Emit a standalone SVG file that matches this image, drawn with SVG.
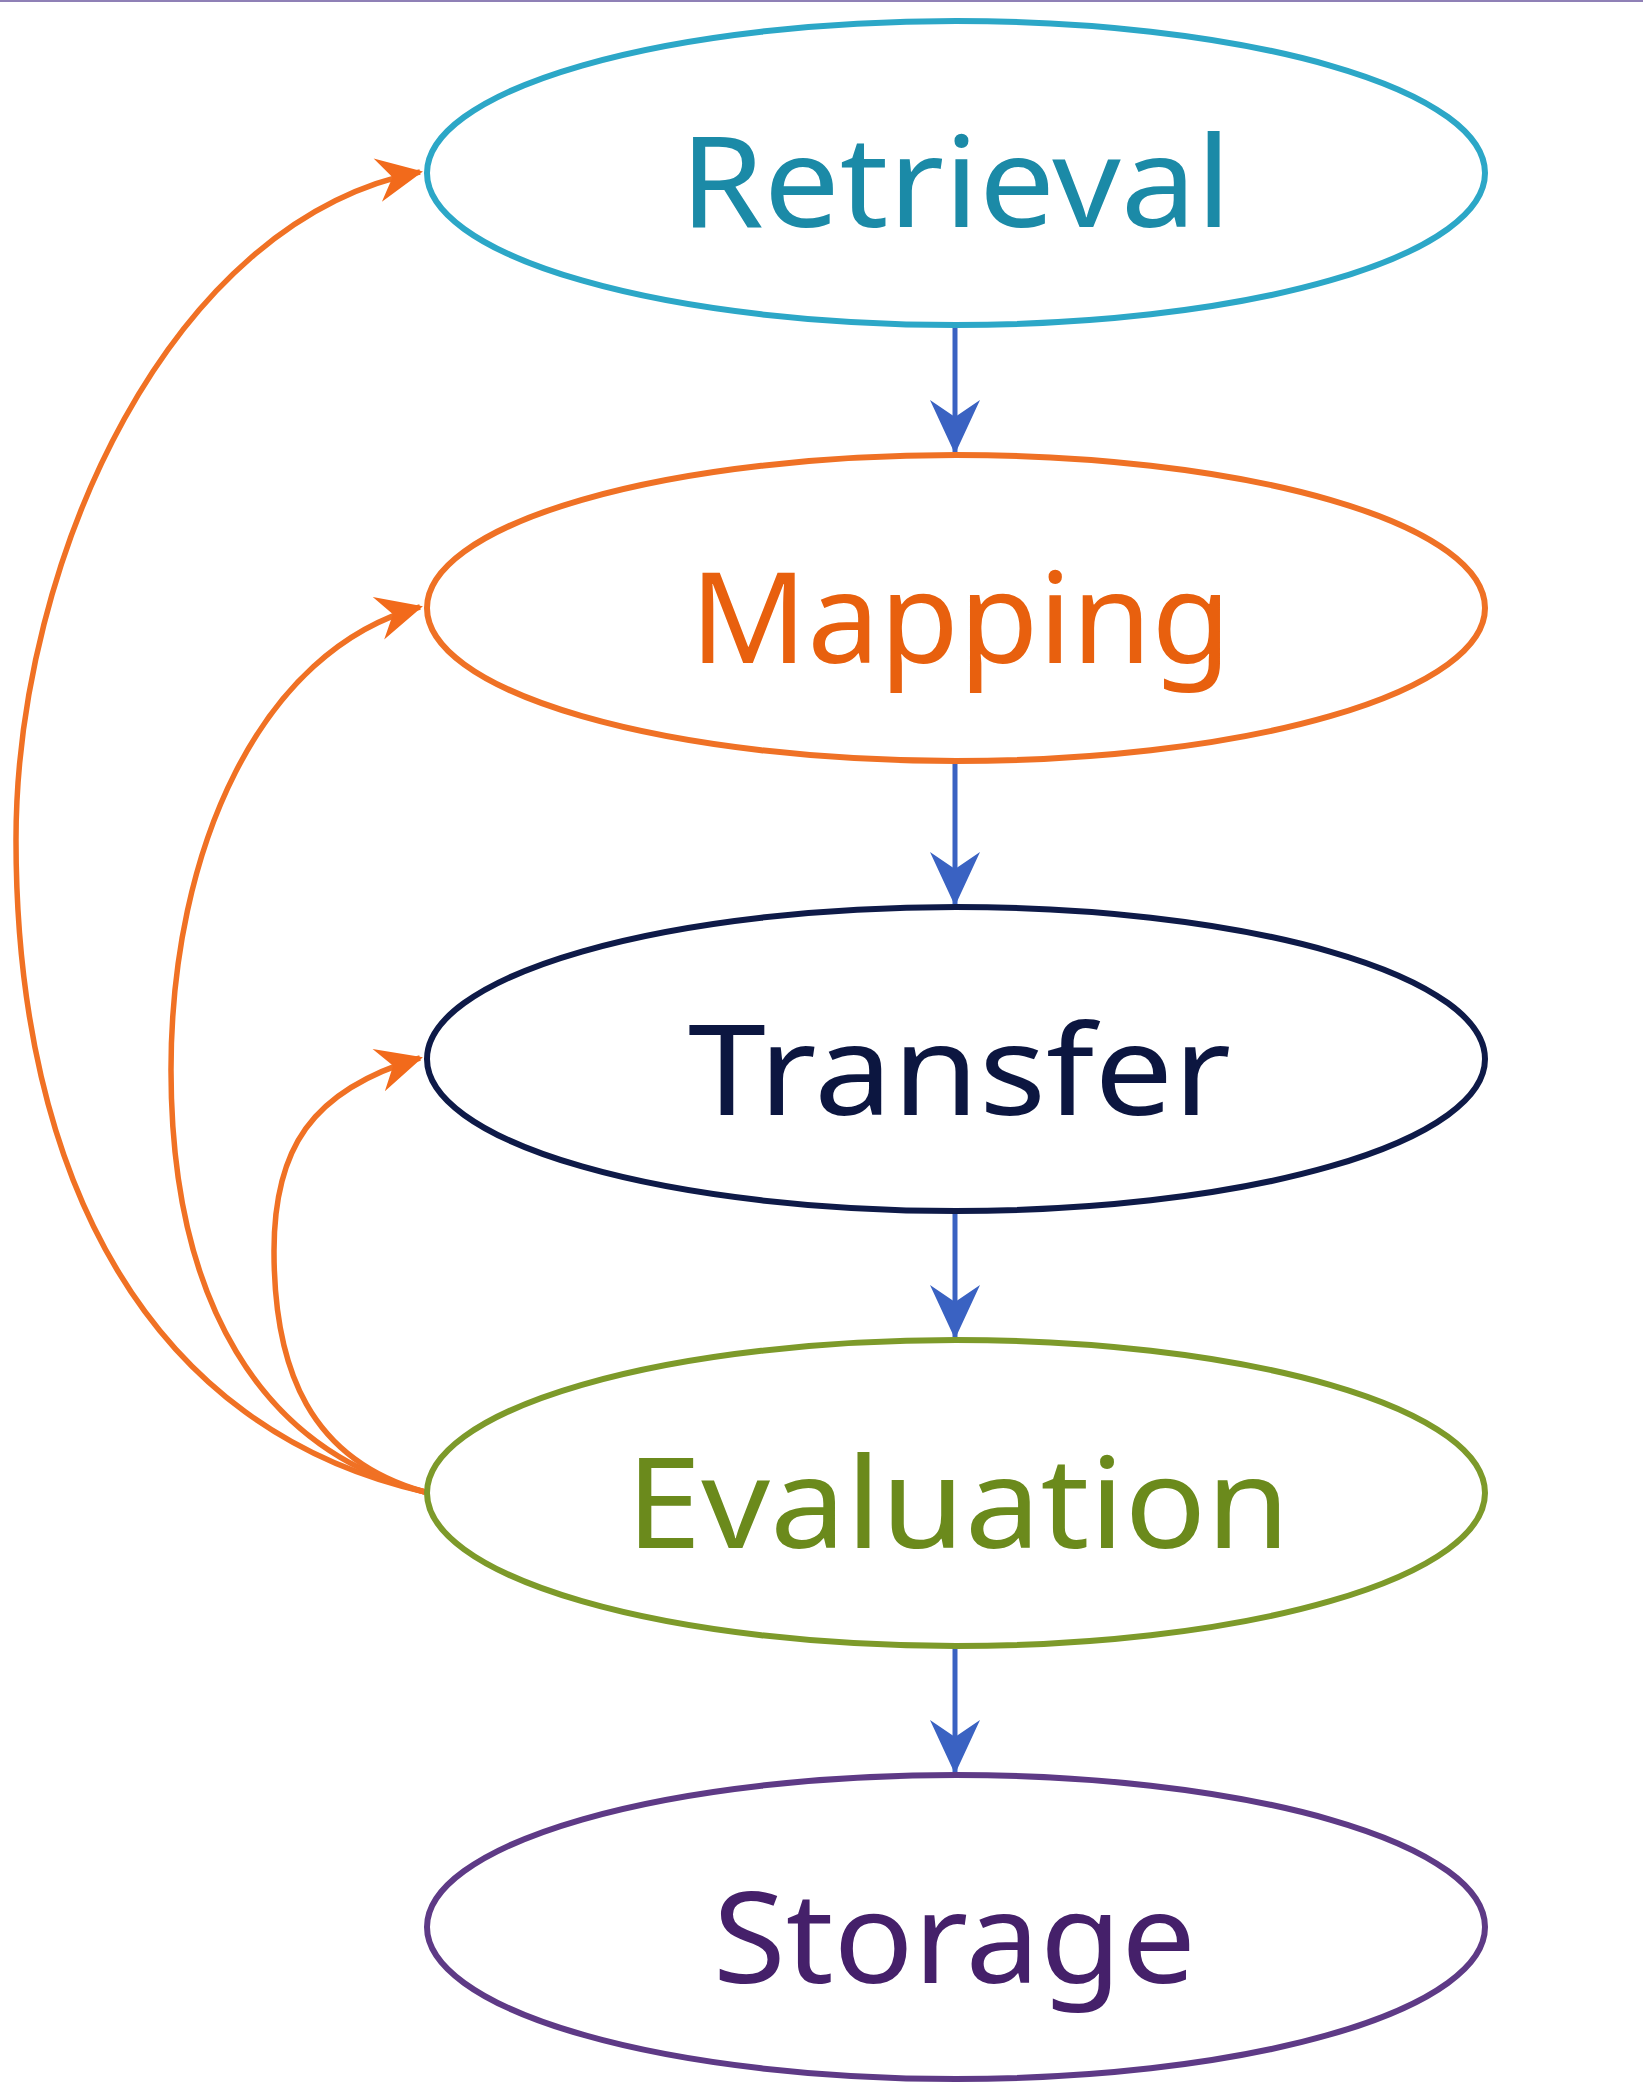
<svg xmlns="http://www.w3.org/2000/svg" width="1643" height="2098" viewBox="0 0 1643 2098">
  <defs>
    <style>
      .node { fill: #ffffff; stroke-width: 6; }
      .label { font-family: "Noto Sans", "Liberation Sans", sans-serif; font-size: 126px; }
      .flow { fill: none; stroke: #3a62c2; stroke-width: 5; }
      .loop { fill: none; stroke: #f07124; stroke-width: 5.5; }
    </style>
    <marker id="blueHead" markerUnits="userSpaceOnUse" markerWidth="60" markerHeight="60" viewBox="-56 -28 60 56" refX="0" refY="0" orient="auto">
      <path d="M2,0 L-52,-25 L-35,0 L-52,25 Z" fill="#3a62c2"/>
    </marker>
    <marker id="orangeHead" markerUnits="userSpaceOnUse" markerWidth="52" markerHeight="52" viewBox="-48 -26 52 52" refX="0" refY="0" orient="auto">
      <path d="M3,0 L-43,-22 L-28,0 L-43,22 Z" fill="#f26a1b"/>
    </marker>
  </defs>

  <rect x="0" y="0" width="1643" height="2098" fill="#ffffff"/>
  <rect x="0" y="0" width="1643" height="2" fill="#8f80b6"/>

  <!-- connectors: straight flow downward, feedback loops from Evaluation -->
  <g id="connectors">
    <line class="flow" x1="955" y1="327" x2="955" y2="452" marker-end="url(#blueHead)"/>
    <line class="flow" x1="955" y1="763" x2="955" y2="904" marker-end="url(#blueHead)"/>
    <line class="flow" x1="955" y1="1213" x2="955" y2="1337" marker-end="url(#blueHead)"/>
    <line class="flow" x1="955" y1="1648" x2="955" y2="1772" marker-end="url(#blueHead)"/>

    <path class="loop" d="M425,1492 C150,1430 16,1180 16,840 C16,560 170,220 420,172" marker-end="url(#orangeHead)"/>
    <path class="loop" d="M425,1492 C260,1450 171,1300 171,1070 C171,850 260,650 420,607" marker-end="url(#orangeHead)"/>
    <path class="loop" d="M425,1492 C310,1460 274,1370 274,1251 C274,1150 310,1090 420,1058" marker-end="url(#orangeHead)"/>
  </g>

  <g id="retrieval">
    <ellipse class="node" cx="956" cy="173" rx="529" ry="152" stroke="#2ca7c7"/>
    <text class="label" x="680" y="227" textLength="551" lengthAdjust="spacingAndGlyphs" fill="#1b8aa7">Retrieval</text>
  </g>

  <g id="mapping">
    <ellipse class="node" cx="956" cy="608" rx="529" ry="153" stroke="#ef7125"/>
    <text class="label" x="690" y="663" textLength="541" lengthAdjust="spacingAndGlyphs" fill="#e8600e">Mapping</text>
  </g>

  <g id="transfer">
    <ellipse class="node" cx="956" cy="1059" rx="529" ry="152" stroke="#0e1a48" stroke-width="7"/>
    <text class="label" x="688" y="1115" textLength="543" lengthAdjust="spacingAndGlyphs" fill="#0c1640">Transfer</text>
  </g>

  <g id="evaluation">
    <ellipse class="node" cx="956" cy="1493" rx="529" ry="153" stroke="#7d9a2a"/>
    <text class="label" x="626" y="1548" textLength="664" lengthAdjust="spacingAndGlyphs" fill="#6b8a1c">Evaluation</text>
  </g>

  <g id="storage">
    <ellipse class="node" cx="956" cy="1927" rx="529" ry="152" stroke="#5e3a86"/>
    <text class="label" x="713" y="1983" textLength="483" lengthAdjust="spacingAndGlyphs" fill="#45206a">Storage</text>
  </g>
</svg>
